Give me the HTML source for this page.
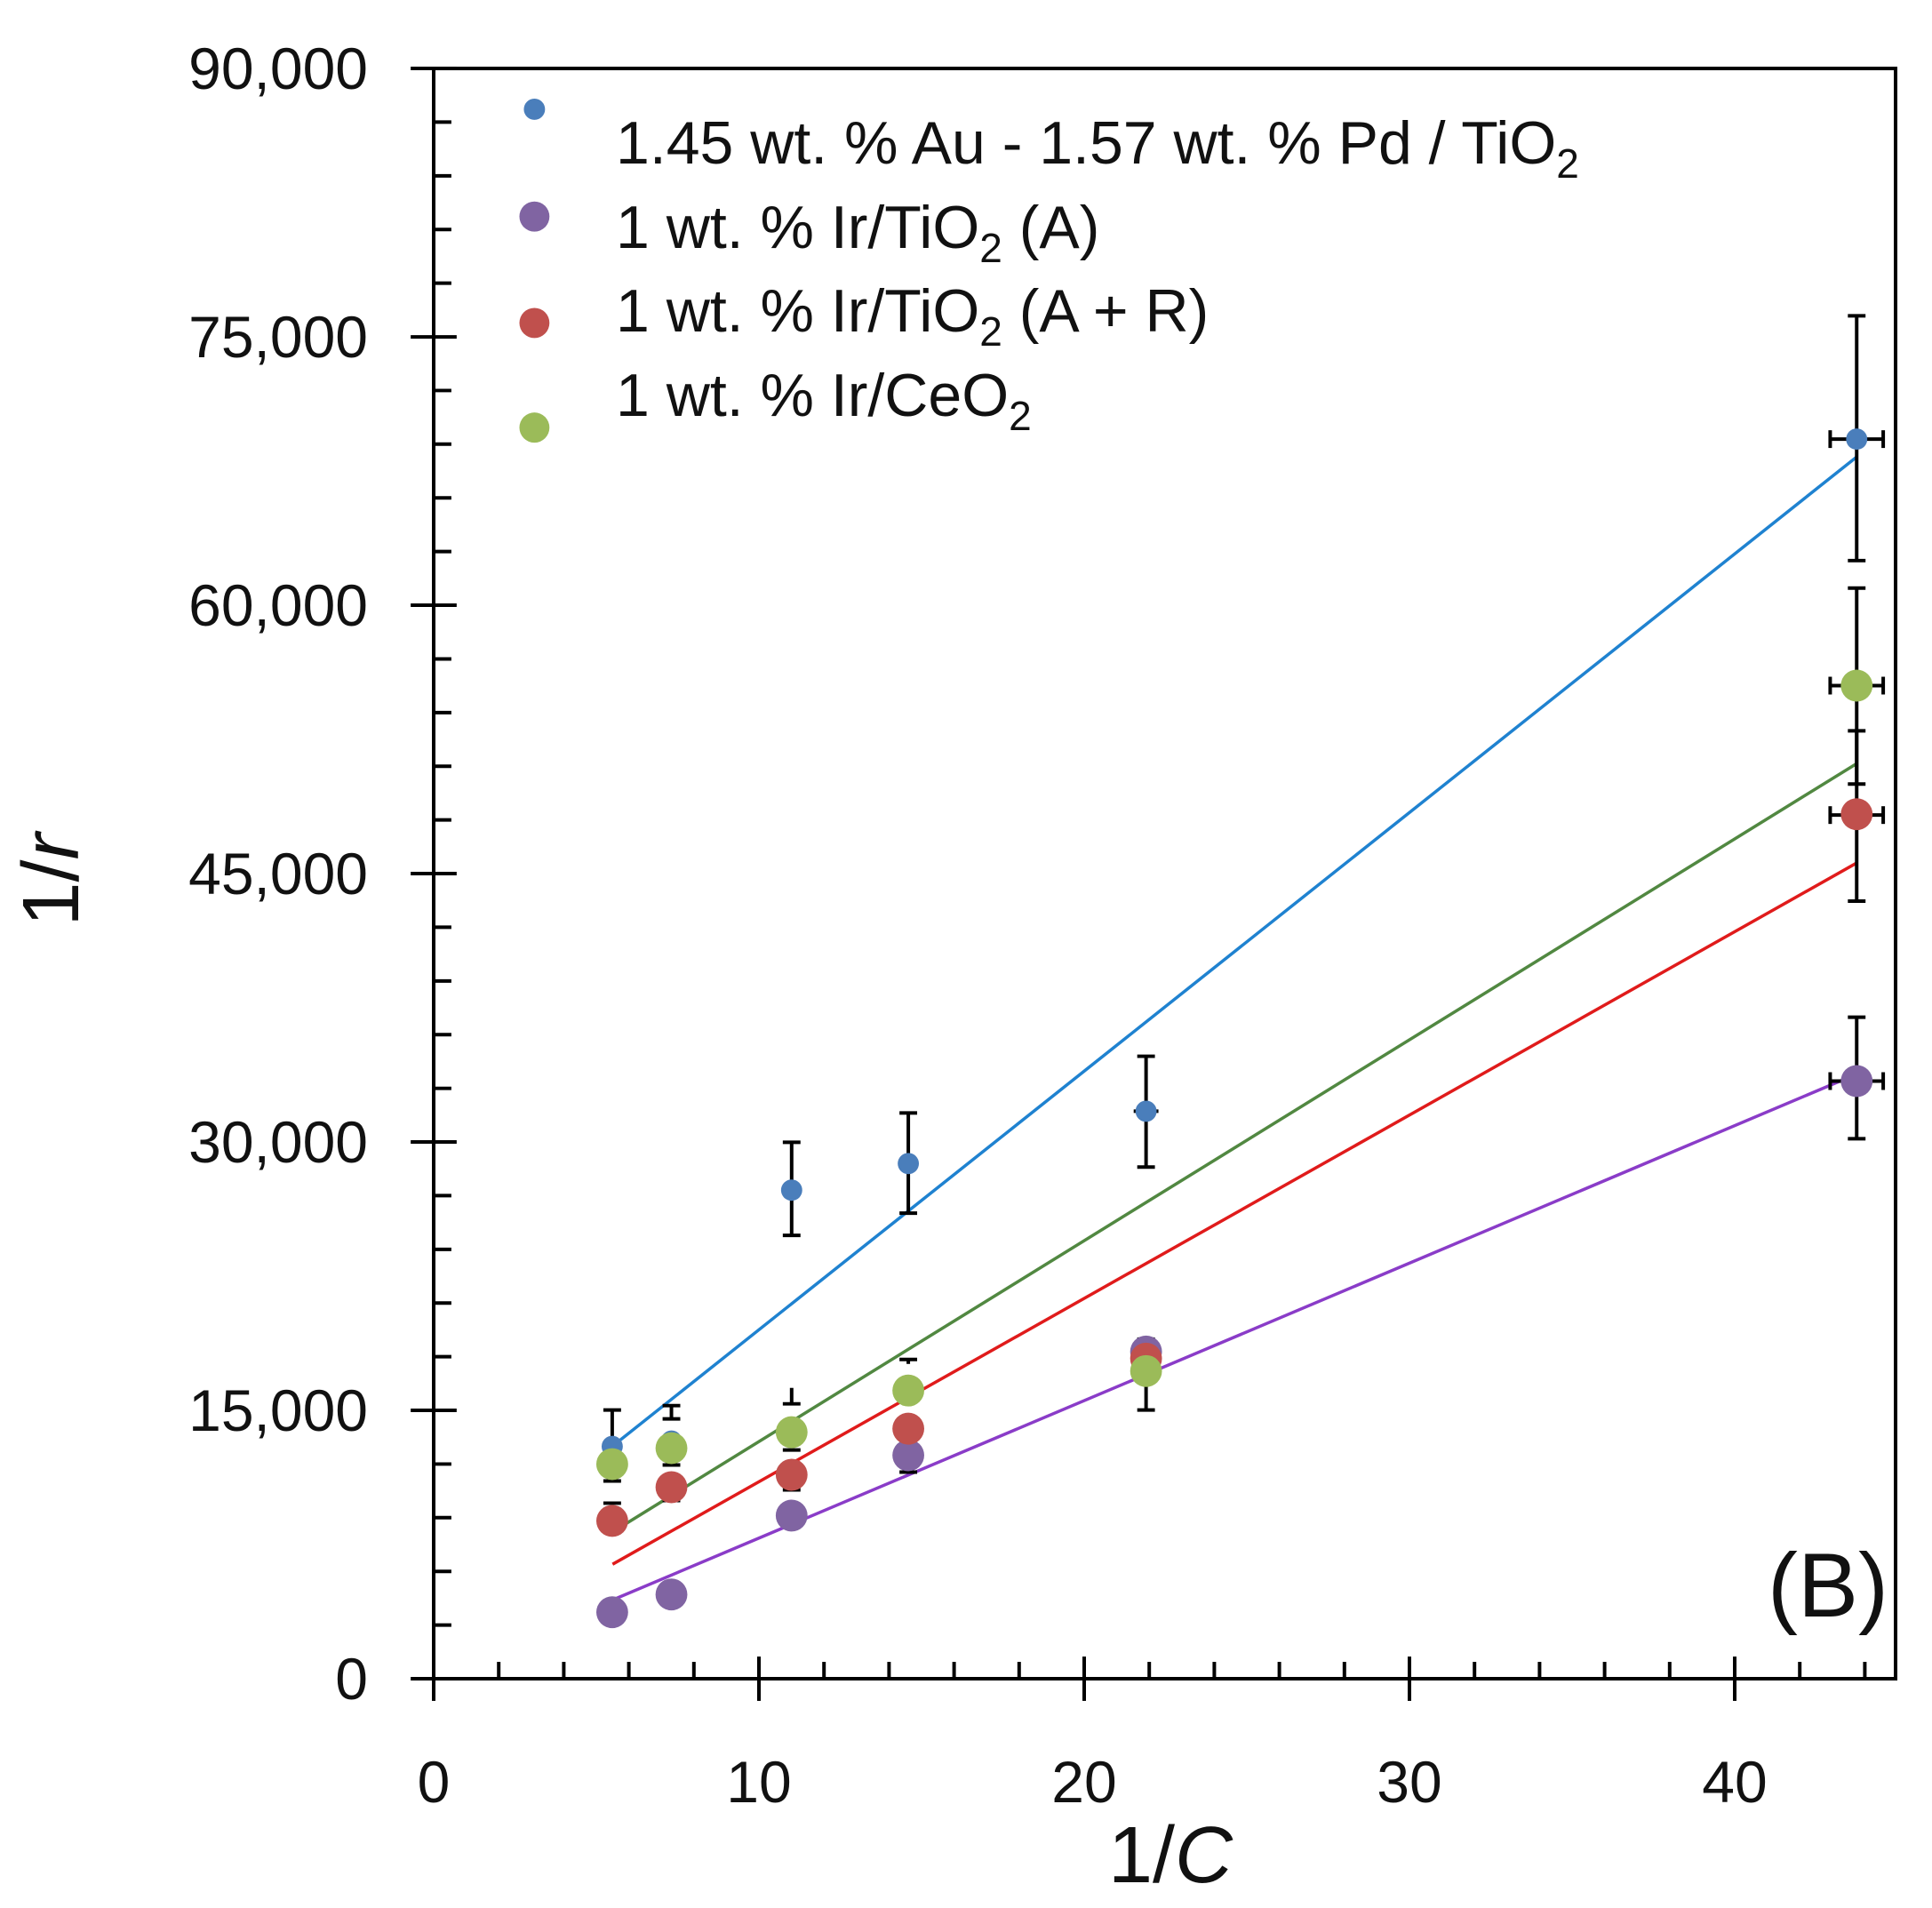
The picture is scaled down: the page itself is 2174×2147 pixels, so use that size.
<!DOCTYPE html>
<html><head><meta charset="utf-8"><style>html,body{margin:0;padding:0;background:#fff}svg{display:block}</style></head><body>
<svg width="2174" height="2147" viewBox="0 0 2174 2147" xmlns="http://www.w3.org/2000/svg" font-family="Liberation Sans, DejaVu Sans, sans-serif">
<rect width="2174" height="2147" fill="#fff"/>
<g transform="translate(488,1889) scale(0.99457,0.99777) translate(-488,-1893)">
<!-- frame -->
<rect x="488" y="77" width="1654" height="1816" fill="none" stroke="#000" stroke-width="4"/>
<g stroke="#000" stroke-width="4">
<line x1="462" y1="1893" x2="514" y2="1893"/><line x1="462" y1="1590.3" x2="514" y2="1590.3"/><line x1="462" y1="1287.7" x2="514" y2="1287.7"/><line x1="462" y1="985" x2="514" y2="985"/><line x1="462" y1="682.3" x2="514" y2="682.3"/><line x1="462" y1="379.7" x2="514" y2="379.7"/><line x1="462" y1="77" x2="514" y2="77"/>
<line x1="488" y1="1832.5" x2="508" y2="1832.5"/><line x1="488" y1="1772" x2="508" y2="1772"/><line x1="488" y1="1711.4" x2="508" y2="1711.4"/><line x1="488" y1="1650.9" x2="508" y2="1650.9"/>
<line x1="488" y1="1529.8" x2="508" y2="1529.8"/><line x1="488" y1="1469.3" x2="508" y2="1469.3"/><line x1="488" y1="1408.8" x2="508" y2="1408.8"/><line x1="488" y1="1348.2" x2="508" y2="1348.2"/>
<line x1="488" y1="1227.2" x2="508" y2="1227.2"/><line x1="488" y1="1166.6" x2="508" y2="1166.6"/><line x1="488" y1="1106.1" x2="508" y2="1106.1"/><line x1="488" y1="1045.5" x2="508" y2="1045.5"/>
<line x1="488" y1="924.5" x2="508" y2="924.5"/><line x1="488" y1="863.9" x2="508" y2="863.9"/><line x1="488" y1="803.4" x2="508" y2="803.4"/><line x1="488" y1="742.9" x2="508" y2="742.9"/>
<line x1="488" y1="621.8" x2="508" y2="621.8"/><line x1="488" y1="561.3" x2="508" y2="561.3"/><line x1="488" y1="500.7" x2="508" y2="500.7"/><line x1="488" y1="440.2" x2="508" y2="440.2"/>
<line x1="488" y1="319.1" x2="508" y2="319.1"/><line x1="488" y1="258.6" x2="508" y2="258.6"/><line x1="488" y1="198.1" x2="508" y2="198.1"/><line x1="488" y1="137.5" x2="508" y2="137.5"/>
<line x1="488" y1="1868" x2="488" y2="1918"/><line x1="856" y1="1868" x2="856" y2="1918"/><line x1="1224" y1="1868" x2="1224" y2="1918"/><line x1="1592" y1="1868" x2="1592" y2="1918"/><line x1="1960" y1="1868" x2="1960" y2="1918"/>
<line x1="561.6" y1="1874" x2="561.6" y2="1893"/><line x1="635.2" y1="1874" x2="635.2" y2="1893"/><line x1="708.8" y1="1874" x2="708.8" y2="1893"/><line x1="782.4" y1="1874" x2="782.4" y2="1893"/>
<line x1="929.6" y1="1874" x2="929.6" y2="1893"/><line x1="1003.2" y1="1874" x2="1003.2" y2="1893"/><line x1="1076.8" y1="1874" x2="1076.8" y2="1893"/><line x1="1150.4" y1="1874" x2="1150.4" y2="1893"/>
<line x1="1297.6" y1="1874" x2="1297.6" y2="1893"/><line x1="1371.2" y1="1874" x2="1371.2" y2="1893"/><line x1="1444.8" y1="1874" x2="1444.8" y2="1893"/><line x1="1518.4" y1="1874" x2="1518.4" y2="1893"/>
<line x1="1665.6" y1="1874" x2="1665.6" y2="1893"/><line x1="1739.2" y1="1874" x2="1739.2" y2="1893"/><line x1="1812.8" y1="1874" x2="1812.8" y2="1893"/><line x1="1886.4" y1="1874" x2="1886.4" y2="1893"/>
<line x1="2033.6" y1="1874" x2="2033.6" y2="1893"/><line x1="2107.2" y1="1874" x2="2107.2" y2="1893"/>
</g>
<!-- fit lines -->
<g stroke-width="3.5">
<line x1="690.4" y1="1630.7" x2="2098.2" y2="514.9" stroke="#1f82d0"/>
<line x1="690.4" y1="1727.5" x2="2098.2" y2="860.8" stroke="#3e7b2c" stroke-opacity="0.9"/>
<line x1="690.4" y1="1763.9" x2="2098.2" y2="972.9" stroke="#e01b1b"/>
<line x1="690.4" y1="1804.2" x2="2098.2" y2="1211" stroke="#8a3cc8"/>
</g>
<!-- error bars -->
<g stroke="#000" stroke-width="4">
<line x1="2098" y1="632" x2="2098" y2="356"/><line x1="2088" y1="632" x2="2108" y2="632"/><line x1="2088" y1="356" x2="2108" y2="356"/>
<line x1="2068" y1="495" x2="2128" y2="495"/><line x1="2068" y1="485" x2="2068" y2="505"/><line x1="2128" y1="485" x2="2128" y2="505"/>
<line x1="1294" y1="1316" x2="1294" y2="1191"/><line x1="1284" y1="1316" x2="1304" y2="1316"/><line x1="1284" y1="1191" x2="1304" y2="1191"/>
<line x1="1280" y1="1253" x2="1308" y2="1253"/>
<line x1="1025" y1="1368" x2="1025" y2="1255"/><line x1="1015" y1="1368" x2="1035" y2="1368"/><line x1="1015" y1="1255" x2="1035" y2="1255"/>
<line x1="893" y1="1393" x2="893" y2="1288"/><line x1="883" y1="1393" x2="903" y2="1393"/><line x1="883" y1="1288" x2="903" y2="1288"/>
<line x1="690" y1="1630" x2="690" y2="1590"/><line x1="680" y1="1590" x2="700" y2="1590"/>
<line x1="757" y1="1600" x2="757" y2="1585"/><line x1="747" y1="1585" x2="767" y2="1585"/><line x1="747" y1="1600" x2="767" y2="1600"/>
<line x1="2098" y1="884" x2="2098" y2="663"/><line x1="2088" y1="884" x2="2108" y2="884"/><line x1="2088" y1="663" x2="2108" y2="663"/>
<line x1="2068" y1="773" x2="2128" y2="773"/><line x1="2068" y1="763" x2="2068" y2="783"/><line x1="2128" y1="763" x2="2128" y2="783"/>
<line x1="893" y1="1583" x2="893" y2="1565"/><line x1="883" y1="1583" x2="903" y2="1583"/>
<line x1="1025" y1="1538" x2="1025" y2="1533"/><line x1="1015" y1="1533" x2="1035" y2="1533"/>
<line x1="680" y1="1670" x2="700" y2="1670"/>
<line x1="2098" y1="1016" x2="2098" y2="824"/><line x1="2088" y1="1016" x2="2108" y2="1016"/><line x1="2088" y1="824" x2="2108" y2="824"/>
<line x1="2068" y1="919" x2="2128" y2="919"/><line x1="2068" y1="909" x2="2068" y2="929"/><line x1="2128" y1="909" x2="2128" y2="929"/>
<line x1="680" y1="1695" x2="700" y2="1695"/><line x1="747" y1="1652" x2="767" y2="1652"/><line x1="747" y1="1692" x2="767" y2="1692"/>
<line x1="883" y1="1635" x2="903" y2="1635"/>
<line x1="2098" y1="1284" x2="2098" y2="1147"/><line x1="2088" y1="1284" x2="2108" y2="1284"/><line x1="2088" y1="1147" x2="2108" y2="1147"/>
<line x1="2068" y1="1219" x2="2128" y2="1219"/><line x1="2068" y1="1209" x2="2068" y2="1229"/><line x1="2128" y1="1209" x2="2128" y2="1229"/>
<line x1="1294" y1="1590" x2="1294" y2="1510"/><line x1="1284" y1="1590" x2="1304" y2="1590"/><line x1="1284" y1="1510" x2="1304" y2="1510"/>
<line x1="1015" y1="1660" x2="1035" y2="1660"/><line x1="883" y1="1720" x2="903" y2="1720"/><line x1="883" y1="1680" x2="903" y2="1680"/>
</g>
<g fill="#4a7ebb">
<circle cx="690" cy="1631" r="12"/><circle cx="757" cy="1625" r="12"/><circle cx="893" cy="1342" r="12"/><circle cx="1025" cy="1312" r="12"/><circle cx="1294" cy="1253" r="12"/><circle cx="2098" cy="495" r="12"/>
</g>
<g fill="#8064a2">
<circle cx="690" cy="1818" r="18"/><circle cx="757" cy="1798" r="18"/><circle cx="893" cy="1709" r="18"/><circle cx="1025" cy="1641" r="18"/><circle cx="1294" cy="1524" r="18"/><circle cx="2098" cy="1219" r="18"/>
</g>
<g fill="#c0504d">
<circle cx="690" cy="1715" r="18"/><circle cx="757" cy="1677" r="18"/><circle cx="893" cy="1663" r="18"/><circle cx="1025" cy="1611" r="18"/><circle cx="1294" cy="1532" r="18"/><circle cx="2098" cy="918" r="18"/>
</g>
<g fill="#9bbb59">
<circle cx="690" cy="1651" r="18"/><circle cx="757" cy="1633" r="18"/><circle cx="893" cy="1615" r="18"/><circle cx="1025" cy="1568" r="18"/><circle cx="1294" cy="1546" r="18"/><circle cx="2098" cy="773" r="18"/>
</g>
<circle cx="602" cy="123" r="12" fill="#4a7ebb"/>
<circle cx="602" cy="244" r="17" fill="#8064a2"/>
<circle cx="602" cy="364" r="17" fill="#c0504d"/>
<circle cx="602" cy="482" r="17" fill="#9bbb59"/>
</g>
<!-- tick labels -->
<g font-size="66" fill="#111" text-anchor="end">
<text x="414" y="1912">0</text><text x="414" y="1610">15,000</text><text x="414" y="1308">30,000</text><text x="414" y="1006">45,000</text><text x="414" y="704">60,000</text><text x="414" y="402">75,000</text><text x="414" y="100">90,000</text>
</g>
<g font-size="66" fill="#111" text-anchor="middle">
<text x="488" y="2028">0</text><text x="854" y="2028">10</text><text x="1220" y="2028">20</text><text x="1586" y="2028">30</text><text x="1952" y="2028">40</text>
</g>
<text x="1317" y="2118" font-size="90" text-anchor="middle" fill="#111">1/<tspan font-style="italic">C</tspan></text>
<text transform="translate(88,990) rotate(-90)" font-size="90" text-anchor="middle" fill="#111">1/<tspan font-style="italic">r</tspan></text>
<text x="2125" y="1819" font-size="102" text-anchor="end" fill="#111">(B)</text>
<g font-size="68" fill="#111">
<text x="693" y="184">1.45 wt. % Au - 1.57 wt. % Pd / TiO<tspan font-size="46" dy="16">2</tspan></text>
<text x="693" y="279">1 wt. % Ir/TiO<tspan font-size="46" dy="16">2</tspan><tspan dy="-16"> (A)</tspan></text>
<text x="693" y="373">1 wt. % Ir/TiO<tspan font-size="46" dy="16">2</tspan><tspan dy="-16"> (A + R)</tspan></text>
<text x="693" y="468">1 wt. % Ir/CeO<tspan font-size="46" dy="16">2</tspan></text>
</g>
</svg>
</body></html>
